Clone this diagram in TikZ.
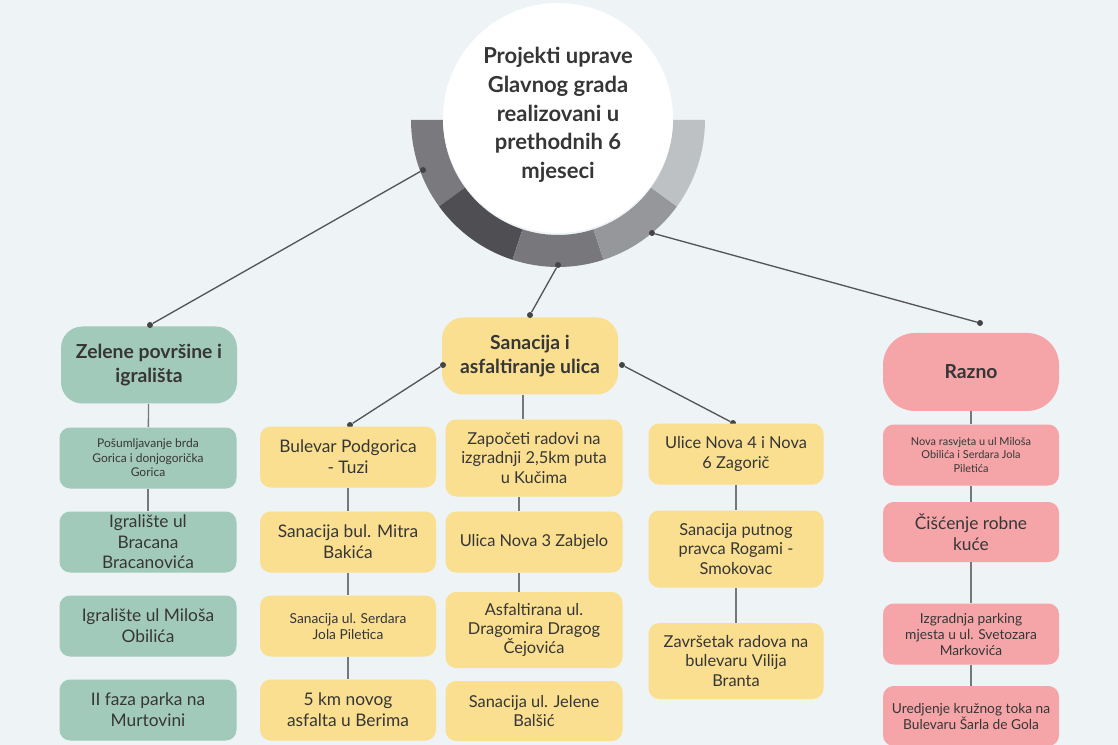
\documentclass[tikz,border=0pt]{standalone}
\usepackage{fontspec}
\setmainfont{Lato}
\begin{document}
\definecolor{bg}{HTML}{EEF3F6}
\definecolor{grn}{HTML}{A2CABA}
\definecolor{yel}{HTML}{F9DF8F}
\definecolor{pnk}{HTML}{F5A5A8}
\definecolor{txt}{HTML}{363636}
\definecolor{lin}{HTML}{555555}
\begin{tikzpicture}[x=0.75pt,y=-0.75pt,
  box/.style n args={3}{draw=none,fill=#1,rounded corners=8pt,minimum width=#2*0.75pt,minimum height=#3*0.75pt,align=center,text=txt,inner sep=1pt},
  hdr/.style n args={3}{box={#1}{#2}{#3},rounded corners=16pt,font=\bfseries\fontsize{14.5}{17.5}\selectfont},
  big/.style={font=\fontsize{13}{15.5}\selectfont},
  mid/.style={font=\fontsize{12.3}{14.5}\selectfont},
  sml/.style={font=\fontsize{10.3}{12}\selectfont},
  tiny/.style={font=\fontsize{9}{10.8}\selectfont},
  con/.style={draw=lin,line width=1pt},
  vl/.style={draw=lin!80,line width=1pt},
  dot/.style={circle,fill=lin!80!black,inner sep=0pt,minimum size=4.5pt}]
\useasboundingbox[fill=bg] (0,0) rectangle (1118,745);
% ring
\begin{scope}[shift={(558,120)},x=1pt,y=1pt]
\foreach \a/\c in {180/7A7A7E,216/4F4E53,252/78787C,288/96979B,324/BEC1C4}{
  \definecolor{tmp}{HTML}{\c}
  \fill[tmp] (\a:110.25pt) arc[start angle=\a,end angle=\a+36,radius=110.25pt]
    -- (\a+36:86.25pt) arc[start angle=\a+36,end angle=\a,radius=86.25pt] -- cycle;
}
\end{scope}
\fill[white] (558,118) circle[radius=115*0.75pt];
\node[align=center,text=txt,font=\bfseries\fontsize{16.5}{21.5}\selectfont] (title) at (558,115) {Projekti uprave\\Glavnog grada\\realizovani u\\prethodnih 6\\mjeseci};
% headers
\node[hdr={grn}{176}{77}] (hz) at (149,365) {Zelene površine i\\igrališta};
\node[hdr={yel}{176}{77}] (hs) at (530,356) {Sanacija i\\asfaltiranje ulica};
\node[hdr={pnk}{176}{78},rounded corners=24pt] (hr) at (971,372) {Razno};
% dots
\node[dot] (r1) at (423,170) {}; \node[dot] (e1) at (150,325) {};
\node[dot] (r2) at (558,265) {}; \node[dot] (e2) at (530,315) {};
\node[dot] (r3) at (652,233) {}; \node[dot] (e3) at (980,323) {};
\node[dot] (s1) at (443,365) {}; \node[dot] (f1) at (350,425) {};
\node[dot] (s2) at (622,365) {}; \node[dot] (f2) at (733,423) {};
\draw[con] (r1)--(e1); \draw[con] (r2)--(e2); \draw[con] (r3)--(e3);
\draw[con] (s1)--(f1); \draw[con] (s2)--(f2);
% green column
\node[box={grn}{177}{61},tiny] (g1) at (148,458) {Pošumljavanje brda\\Gorica i donjogorička\\Gorica};
\node[box={grn}{177}{61},big] (g2) at (148,542) {Igralište ul\\Bracana\\Bracanovića};
\node[box={grn}{177}{61},big] (g3) at (148,626) {Igralište ul Miloša\\Obilića};
\node[box={grn}{177}{61},big] (g4) at (148,710) {II faza parka na\\Murtovini};
\draw[vl] (hz)--(g1); \draw[vl] (g1)--(g2);
% yellow A
\node[box={yel}{176}{61},big] (a1) at (348,457) {Bulevar Podgorica\\- Tuzi};
\node[box={yel}{176}{61},big] (a2) at (348,542) {Sanacija bul. Mitra\\Bakića};
\node[box={yel}{176}{61},sml] (a3) at (348,626) {Sanacija ul. Serdara\\Jola Piletica};
\node[box={yel}{176}{61},big] (a4) at (348,710) {5 km novog\\asfalta u Berima};
\draw[vl] (a1)--(a2); \draw[vl] (a2)--(a3); \draw[vl] (a3)--(a4);
% yellow B
\node[box={yel}{177}{77},mid] (b1) at (534,458) {Započeti radovi na\\izgradnji 2,5km puta\\u Kučima};
\node[box={yel}{177}{61},mid] (b2) at (534,542) {Ulica Nova 3 Zabjelo};
\node[box={yel}{177}{76},mid] (b3) at (534,630) {Asfaltirana ul.\\Dragomira Dragog\\Čejovića};
\node[box={yel}{177}{60},mid] (b4) at (534,711) {Sanacija ul. Jelene\\Balšić};
\draw[vl] (hs.south -| 523,0)--(b1.north -| 523,0);
\draw[vl] (b1.south -| 519,0)--(b2.north -| 519,0);
\draw[vl] (b2.south -| 519,0)--(b3.north -| 519,0);
% yellow C
\node[box={yel}{175}{61},mid] (c1) at (736,454) {Ulice Nova 4 i Nova\\6 Zagorič};
\node[box={yel}{175}{77},mid] (c2) at (736,549) {Sanacija putnog\\pravca Rogami -\\Smokovac};
\node[box={yel}{175}{76},mid] (c3) at (736,661) {Završetak radova na\\bulevaru Vilija\\Branta};
\draw[vl] (c1)--(c2); \draw[vl] (c2)--(c3);
% pink
\node[box={pnk}{176}{61},font=\fontsize{8.2}{10.3}\selectfont] (p1) at (971,455) {Nova rasvjeta u ul Miloša\\Obilića i Serdara Jola\\Piletića};
\node[box={pnk}{176}{60},big] (p2) at (971,532) {Čišćenje robne\\kuće};
\node[box={pnk}{176}{61},sml] (p3) at (971,634) {Izgradnja parking\\mjesta u ul. Svetozara\\Markovića};
\node[box={pnk}{176}{60},sml] (p4) at (971,716) {Uredjenje kružnog toka na\\Bulevaru Šarla de Gola};
\draw[vl] (hr)--(p1); \draw[vl] (p1)--(p2); \draw[vl] (p2)--(p3); \draw[vl] (p3)--(p4);
\end{tikzpicture}
\end{document}
